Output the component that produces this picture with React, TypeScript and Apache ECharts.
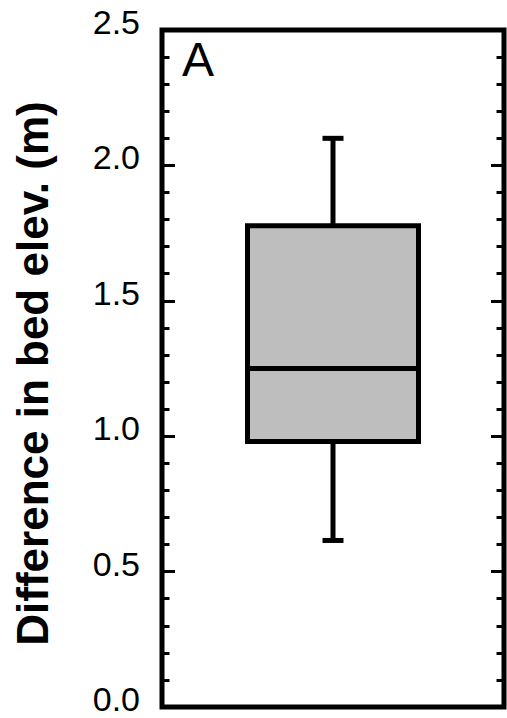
import React, { useEffect, useRef } from "react";
import * as echarts from "echarts";

const categories = [""];
const whiskerLow = [0.615];
const quartile1 = [0.98];
const medians = [1.25];
const quartile3 = [1.777];
const whiskerHigh = [2.1];
const yTicks = [0, 0.5, 1.0, 1.5, 2.0, 2.5];

const FONT = "'Liberation Sans', Arial, Helvetica, sans-serif";

export default function App() {
  const ref = useRef<HTMLDivElement>(null);
  useEffect(() => {
    if (!ref.current) return;
    const chart = echarts.init(ref.current, null, { renderer: "svg" });
    const data = categories.map((c, i) => [
      i,
      whiskerLow[i],
      quartile1[i],
      medians[i],
      quartile3[i],
      whiskerHigh[i],
    ]);
    const tickCommon = {
      axisLine: { show: false },
      axisTick: { show: true, inside: true, length: 13, lineStyle: { color: "#000", width: 3 } },
      minorTick: { show: true, splitNumber: 5, length: 7.5, lineStyle: { color: "#000", width: 3 } },
      splitLine: { show: false },
      minorSplitLine: { show: false },
    };
    chart.setOption({
      animation: false,
      backgroundColor: "#fff",
      grid: {
        left: 162,
        right: 3,
        top: 30,
        bottom: 11,
        show: true,
        borderColor: "#000",
        borderWidth: 5,
        backgroundColor: "transparent",
      },
      xAxis: {
        type: "category",
        data: categories,
        show: false,
        boundaryGap: true,
      },
      yAxis: [
        {
          type: "value",
          min: yTicks[0],
          max: yTicks[yTicks.length - 1],
          interval: 0.5,
          position: "left",
          name: "Difference in bed elev. (m)",
          nameLocation: "middle",
          nameGap: 108,
          nameTextStyle: {
            fontSize: 44,
            fontWeight: "bold",
            color: "#000",
            fontFamily: FONT,
            padding: [0, 10, 0, 0],
          },
          axisLabel: {
            show: true,
            margin: 22,
            fontSize: 34,
            color: "#000",
            fontFamily: FONT,
            verticalAlign: "bottom",
            lineHeight: 16,
            showMinLabel: true,
            showMaxLabel: true,
            formatter: (v: number) => v.toFixed(1),
          },
          ...tickCommon,
        },
        {
          type: "value",
          min: yTicks[0],
          max: yTicks[yTicks.length - 1],
          interval: 0.5,
          position: "right",
          axisLabel: { show: false },
          ...tickCommon,
        },
      ],
      graphic: [
        {
          type: "text",
          left: 182,
          top: 35,
          style: { text: "A", fontSize: 48, fill: "#000", fontFamily: FONT },
        },
      ],
      series: [
        {
          type: "custom",
          xAxisIndex: 0,
          yAxisIndex: 0,
          encode: { x: 0, y: [1, 2, 3, 4, 5] },
          data,
          renderItem: (params: any, api: any) => {
            const xi = api.value(0);
            const band = api.size([1, 0])[0];
            const bw = band * 0.5;
            const cw = band * 0.0614;
            const pLow = api.coord([xi, api.value(1)]);
            const pQ1 = api.coord([xi, api.value(2)]);
            const pMed = api.coord([xi, api.value(3)]);
            const pQ3 = api.coord([xi, api.value(4)]);
            const pHigh = api.coord([xi, api.value(5)]);
            const cx = pMed[0];
            const lineStyle = { stroke: "#000", lineWidth: 5, fill: null };
            return {
              type: "group",
              children: [
                { type: "line", shape: { x1: cx, y1: pHigh[1], x2: cx, y2: pQ3[1] }, style: lineStyle },
                { type: "line", shape: { x1: cx, y1: pQ1[1], x2: cx, y2: pLow[1] }, style: lineStyle },
                { type: "line", shape: { x1: cx - cw / 2, y1: pHigh[1], x2: cx + cw / 2, y2: pHigh[1] }, style: lineStyle },
                { type: "line", shape: { x1: cx - cw / 2, y1: pLow[1], x2: cx + cw / 2, y2: pLow[1] }, style: lineStyle },
                {
                  type: "rect",
                  shape: { x: cx - bw / 2, y: pQ3[1], width: bw, height: pQ1[1] - pQ3[1] },
                  style: { fill: "#bebebe", stroke: "#000", lineWidth: 5 },
                },
                { type: "line", shape: { x1: cx - bw / 2, y1: pMed[1], x2: cx + bw / 2, y2: pMed[1] }, style: lineStyle },
              ],
            };
          },
        },
      ],
    });
    return () => chart.dispose();
  }, []);
  return (
    <div
      ref={ref}
      style={{ position: "fixed", left: 0, top: 0, width: 507, height: 718, background: "#fff" }}
    />
  );
}
